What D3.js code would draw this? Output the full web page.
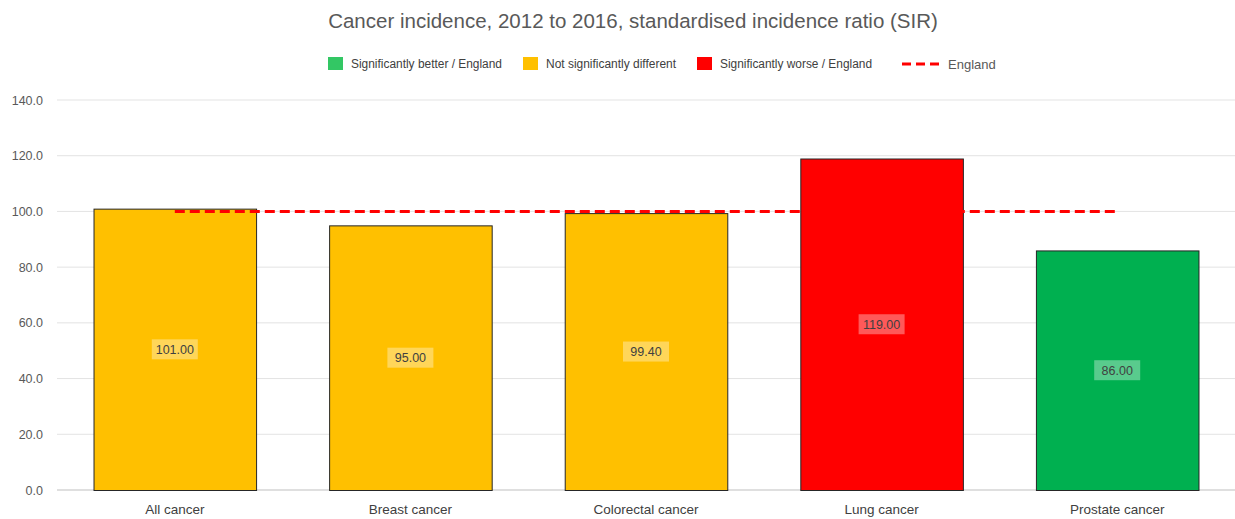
<!DOCTYPE html>
<html>
<head>
<meta charset="utf-8">
<script src="https://cdn.jsdelivr.net/npm/d3@7"></script>
<style>
  html, body { margin: 0; padding: 0; background: #fff; }
  svg { display: block; font-family: "Liberation Sans", Arial, sans-serif; }
</style>
</head>
<body>
<svg id="chart" width="1235" height="519"></svg>
<script>
// Cancer incidence SIR by site, with significance status vs England
const categories = ["All cancer", "Breast cancer", "Colorectal cancer", "Lung cancer", "Prostate cancer"];
const sirValues = [101.00, 95.00, 99.40, 119.00, 86.00];
const significance = ["same", "same", "same", "worse", "better"];
const englandValue = [100, 100, 100, 100, 100];
const yTicks = [0, 20, 40, 60, 80, 100, 120, 140];

const statusColor = { better: "#00B050", same: "#FFC000", worse: "#FF0000" };
const legendItems = [
  { label: "Significantly better / England", color: "#33C764" },
  { label: "Not significantly different", color: "#FFC000" },
  { label: "Significantly worse / England", color: "#FF0000" }
];

const svg = d3.select("#chart");
const margin = { top: 100, right: 0, bottom: 29, left: 57 };
const width = 1235, height = 519;

const x = d3.scaleBand().domain(categories).range([margin.left, width - margin.right]).paddingInner(0.31).paddingOuter(0.155);
const y = d3.scaleLinear().domain([0, 140]).range([height - margin.bottom, margin.top]);

// title
svg.append("text")
  .attr("x", 633).attr("y", 28)
  .attr("text-anchor", "middle")
  .attr("font-size", 20.5)
  .attr("fill", "#595959")
  .text("Cancer incidence, 2012 to 2016, standardised incidence ratio (SIR)");

// gridlines
svg.append("g").selectAll("line").data(yTicks).join("line")
  .attr("x1", margin.left).attr("x2", width - margin.right)
  .attr("y1", d => y(d)).attr("y2", d => y(d))
  .attr("stroke", d => d === 0 ? "#bfbfbf" : "#e3e3e3")
  .attr("stroke-width", 1);

// y axis labels
const yAxis = d3.axisLeft(y).tickValues(yTicks).tickFormat(d3.format(".1f")).tickSize(0).tickPadding(14);
const gy = svg.append("g").attr("transform", `translate(${margin.left},0)`).call(yAxis);
gy.select(".domain").remove();
gy.selectAll("text").attr("font-size", 12.5).attr("fill", "#595959").attr("font-family", "'Liberation Sans', Arial, sans-serif");

// x axis labels
const xAxis = d3.axisBottom(x).tickSize(0).tickPadding(14);
const gx = svg.append("g").attr("transform", `translate(0,${y(0)})`).call(xAxis);
gx.select(".domain").remove();
gx.selectAll("text").attr("font-size", 13.5).attr("fill", "#404040").attr("font-family", "'Liberation Sans', Arial, sans-serif");

// bars
svg.append("g").selectAll("rect").data(categories).join("rect")
  .attr("x", d => x(d) + 0.5)
  .attr("y", (d, i) => y(sirValues[i]) + 0.5)
  .attr("width", x.bandwidth())
  .attr("height", (d, i) => y(0) - y(sirValues[i]))
  .attr("fill", (d, i) => statusColor[significance[i]])
  .attr("stroke", "#262626")
  .attr("stroke-width", 1);

// England reference line
const line = d3.line().x(d => x(d[0]) + x.bandwidth() / 2).y(d => y(d[1]));
svg.append("path")
  .datum(categories.map((c, i) => [c, englandValue[i]]))
  .attr("d", line)
  .attr("fill", "none")
  .attr("stroke", "#FF0000")
  .attr("stroke-width", 3)
  .attr("stroke-dasharray", "10,5");

// value labels at mid-height with translucent boxes
const labels = svg.append("g").selectAll("g").data(categories).join("g")
  .attr("transform", (d, i) => `translate(${x(d) + x.bandwidth() / 2},${y(sirValues[i] / 2)})`);
labels.append("rect")
  .attr("x", -23).attr("y", -10).attr("width", 46).attr("height", 20)
  .attr("fill", "#ffffff").attr("fill-opacity", 0.35);
labels.append("text")
  .attr("text-anchor", "middle").attr("dy", "0.35em")
  .attr("font-size", 12.5).attr("fill", "#404040")
  .text((d, i) => d3.format(".2f")(sirValues[i]));

// legend
const legend = svg.append("g").attr("font-size", 12).attr("fill", "#404040");
const legendX = [328, 523, 697];
legendItems.forEach((item, i) => {
  legend.append("rect").attr("x", legendX[i]).attr("y", 57).attr("width", 15).attr("height", 13).attr("fill", item.color);
  legend.append("text").attr("x", legendX[i] + 23).attr("y", 68).attr("fill", "#404040")
    .attr("textLength", i === 0 ? 151 : i === 1 ? 130 : 152).attr("lengthAdjust", "spacingAndGlyphs").text(item.label);
});
legend.append("line").attr("x1", 902).attr("x2", 942).attr("y1", 64).attr("y2", 64)
  .attr("stroke", "#FF0000").attr("stroke-width", 3).attr("stroke-dasharray", "9,5");
legend.append("text").attr("x", 948).attr("y", 69).attr("font-size", 13).attr("fill", "#595959").text("England");
</script>
</body>
</html>
